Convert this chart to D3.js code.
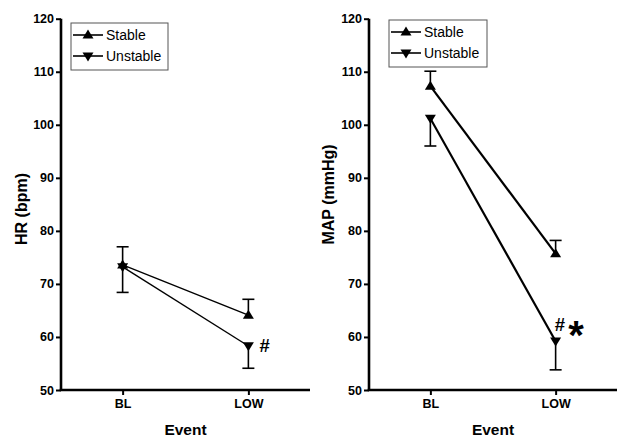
<!DOCTYPE html>
<html><head><meta charset="utf-8">
<script src="https://cdn.jsdelivr.net/npm/d3@7"></script>
<style>
body{margin:0;background:#fff;}
svg{display:block;font-family:"Liberation Sans",Arial,sans-serif;}
</style></head>
<body><svg id="chart" width="617" height="438"></svg>
<script>
const categories = ["BL", "LOW"];
const seriesNames = ["Stable", "Unstable"];
const yTicks = [50, 60, 70, 80, 90, 100, 110, 120];

const hrStable = [73.6, 64.1];
const hrStableSem = [3.4, 3.0];
const hrUnstable = [73.2, 58.3];
const hrUnstableSem = [4.8, 4.2];

const mapStable = [107.3, 75.7];
const mapStableSem = [2.8, 2.5];
const mapUnstable = [101.2, 59.2];
const mapUnstableSem = [5.2, 5.4];

const panels = [
  {x0: 61, x1: 310, title: "HR (bpm)", titleX: 27, titleY: 209, stable: hrStable, stableSem: hrStableSem,
   unstable: hrUnstable, unstableSem: hrUnstableSem, lw: 1.4, legend: {x: 71, y: 23, w: 97, h: 47},
   notes: [{t: "#", i: 1, dx: 11, by: 6, size: 18.5}]},
  {x0: 369, x1: 617, title: "MAP (mmHg)", titleX: 334, titleY: 194.5, stable: mapStable, stableSem: mapStableSem,
   unstable: mapUnstable, unstableSem: mapUnstableSem, lw: 2.2, legend: {x: 389, y: 20, w: 98, h: 47},
   notes: [{t: "#", i: 1, dx: -1, by: -10, size: 18.5}, {t: "*", i: 1, dx: 12.5, by: 8, size: 40}]}
];

const svg = d3.select("#chart");
const yTop = 18.7, yBot = 390;

function tri(up, w, h) {
  return up ? `M0,${-h*0.6}L${w/2},${h*0.4}L${-w/2},${h*0.4}Z`
            : `M0,${h*0.6}L${w/2},${-h*0.4}L${-w/2},${-h*0.4}Z`;
}

panels.forEach(p => {
  const g = svg.append("g");
  const y = d3.scaleLinear().domain([50, 120]).range([yBot, yTop]);
  const x = d3.scalePoint().domain(categories).range([p.x0, p.x1]).padding(0.49);

  const ya = g.append("g").attr("transform", `translate(${p.x0},0)`)
    .call(d3.axisLeft(y).tickValues(yTicks).tickSize(5).tickSizeOuter(0).tickPadding(2));
  ya.select(".domain").attr("stroke-width", 2.6).attr("d", `M0,${yTop}V${yBot}`);
  ya.selectAll(".tick line").attr("stroke-width", 2);
  ya.selectAll(".tick text").attr("font-size", 12.5).attr("font-weight", "bold")
    .attr("font-family", "Liberation Sans, Arial, sans-serif").attr("fill", "#000");

  const xa = g.append("g").attr("transform", `translate(0,${yBot})`)
    .call(d3.axisBottom(x).tickSize(5).tickSizeOuter(0).tickPadding(4));
  xa.select(".domain").attr("stroke-width", 2.6).attr("d", `M${p.x0 - 1.3},0H${p.x1}`);
  xa.selectAll(".tick line").attr("stroke-width", 2);
  xa.selectAll(".tick text").attr("font-size", 12.5).attr("font-weight", "bold")
    .attr("font-family", "Liberation Sans, Arial, sans-serif").attr("fill", "#000");

  g.append("text").attr("x", (p.x0 + p.x1) / 2).attr("y", 435).attr("text-anchor", "middle")
    .attr("font-size", 15.5).attr("font-weight", "bold").text("Event");
  g.append("text").attr("transform", `translate(${p.titleX},${p.titleY}) rotate(-90)`)
    .attr("text-anchor", "middle").attr("font-size", 16).attr("font-weight", "bold").text(p.title);

  const series = [
    {vals: p.stable, sem: p.stableSem, up: true},
    {vals: p.unstable, sem: p.unstableSem, up: false}
  ];
  const line = d3.line().x((d, i) => x(categories[i])).y(d => y(d));
  series.forEach(s => {
    s.vals.forEach((v, i) => {
      const cx = x(categories[i]);
      const end = s.up ? v + s.sem[i] : v - s.sem[i];
      g.append("line").attr("x1", cx).attr("x2", cx).attr("y1", y(v)).attr("y2", y(end))
        .attr("stroke", "#000").attr("stroke-width", 1.6);
      g.append("line").attr("x1", cx - 6).attr("x2", cx + 6).attr("y1", y(end)).attr("y2", y(end))
        .attr("stroke", "#000").attr("stroke-width", 1.6);
    });
    g.append("path").datum(s.vals).attr("d", line).attr("fill", "none")
      .attr("stroke", "#000").attr("stroke-width", p.lw);
    s.vals.forEach((v, i) => {
      g.append("path").attr("d", tri(s.up, 11, 9))
        .attr("transform", `translate(${x(categories[i])},${y(v)})`).attr("fill", "#000");
    });
  });

  p.notes.forEach(n => {
    g.append("text").attr("x", x(categories[n.i]) + n.dx).attr("y", y(p.unstable[n.i]) + n.by)
      .attr("font-size", n.size).attr("font-weight", "bold").text(n.t);
  });

  const L = p.legend;
  const lg = g.append("g").attr("transform", `translate(${L.x},${L.y})`);
  lg.append("rect").attr("width", L.w).attr("height", L.h).attr("fill", "#fff")
    .attr("stroke", "#555").attr("stroke-width", 1);
  seriesNames.forEach((nm, k) => {
    const ly = 12 + k * 21;
    lg.append("line").attr("x1", 2).attr("x2", 32).attr("y1", ly).attr("y2", ly)
      .attr("stroke", "#000").attr("stroke-width", 1.6);
    lg.append("path").attr("d", tri(k === 0, 11, 9)).attr("transform", `translate(17,${ly})`).attr("fill", "#000");
    lg.append("text").attr("x", 35).attr("y", ly + 5).attr("font-size", 14).text(nm);
  });
});
</script></body></html>
